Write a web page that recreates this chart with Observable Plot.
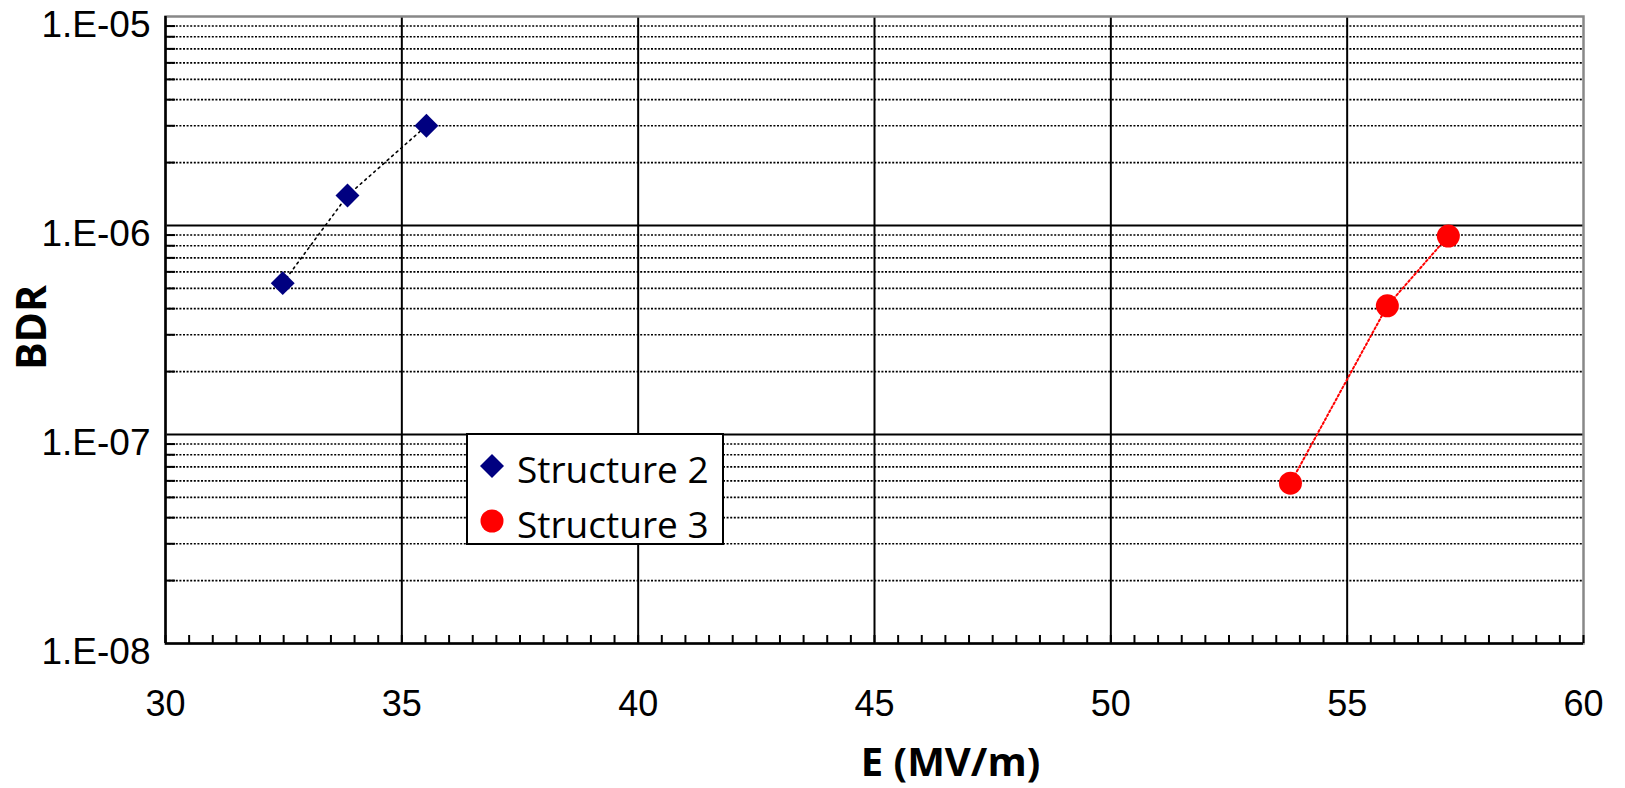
<!DOCTYPE html>
<html>
<head>
<meta charset="utf-8">
<script src="https://cdn.jsdelivr.net/npm/d3@7"></script>
<script src="https://cdn.jsdelivr.net/npm/@observablehq/plot@0.6"></script>
<style>
  html, body { margin: 0; padding: 0; background: #fff; }
  #wrap { position: relative; width: 1625px; height: 788px; }
  #legend { position: absolute; left: 0; top: 0; pointer-events: none; }
</style>
</head>
<body>
<div id="wrap"></div>
<script>
// ---- Data ----
const s2E   = [32.48, 33.85, 35.52];
const s2BDR = [5.3e-7, 1.39e-6, 3.0e-6];
const s3E   = [53.80, 55.85, 57.14];
const s3BDR = [5.85e-8, 4.13e-7, 8.9e-7];
const seriesNames = ["Structure 2", "Structure 3"];

const xMajorTicks = [30, 35, 40, 45, 50, 55, 60];
const yMajorTicks = [1e-8, 1e-7, 1e-6, 1e-5];
const xMinorTicks = d3.range(30, 60.001, 0.5);
const yMinorTicks = [-8, -7, -6].flatMap(k => d3.range(2, 10).map(m => m * Math.pow(10, k)));

const s2 = s2E.map((e, i) => ({E: e, BDR: s2BDR[i]}));
const s3 = s3E.map((e, i) => ({E: e, BDR: s3BDR[i]}));

const fmtY = d => {
  const k = Math.round(Math.log10(d));
  return "1.E" + (k < 0 ? "-" : "+") + String(Math.abs(k)).padStart(2, "0");
};

const chart = Plot.plot({
  width: 1625,
  height: 788,
  marginLeft: 165,
  marginRight: 42,
  marginTop: 16,
  marginBottom: 145,
  style: {background: "#fff", color: "#000"},
  x: {type: "linear", domain: [30, 60]},
  y: {type: "log", domain: [1e-8, 1e-5]},
  marks: [
    // minor horizontal dotted grid
    Plot.ruleY(yMinorTicks, {stroke: "#000", strokeWidth: 1.6, strokeDasharray: "2,1.6"}),
    // major grid
    Plot.ruleX(xMajorTicks.slice(1, -1), {stroke: "#000", strokeWidth: 2}),
    Plot.ruleY(yMajorTicks.slice(1, -1), {stroke: "#000", strokeWidth: 2}),
    // frame: top/right gray, left/bottom black
    Plot.frame({stroke: "#888", strokeWidth: 2.5}),
    Plot.ruleX([30], {stroke: "#000", strokeWidth: 2.5}),
    Plot.ruleY([1e-8], {stroke: "#000", strokeWidth: 2.5}),
    // inward minor ticks
    Plot.axisY({ticks: yMinorTicks, tickSize: -10, tickFormat: () => "", strokeWidth: 2, label: null}),
    Plot.axisX({ticks: xMinorTicks, tickSize: -8, tickFormat: () => "", strokeWidth: 2, label: null}),
    // tick labels
    Plot.axisY({ticks: yMajorTicks, tickSize: 0, tickPadding: 15, tickFormat: fmtY,
      fontSize: 37, fontFamily: "Liberation Sans", dy: 8.5, label: null}),
    Plot.axisX({ticks: xMajorTicks, tickSize: 0, tickPadding: 47, tickFormat: d => String(d),
      fontSize: 36, fontFamily: "Liberation Sans", label: null}),
    // axis titles
    Plot.text(["E (MV/m)"], {frameAnchor: "bottom", dx: 76, dy: 120, fontSize: 40,
      fontWeight: "bold", fontFamily: "Open Sans", textAnchor: "middle", lineAnchor: "middle"}),
    Plot.text(["BDR"], {frameAnchor: "left", rotate: -90, dx: -133, dy: -2.5, fontSize: 41,
      fontWeight: "bold", fontFamily: "Open Sans", textAnchor: "middle", lineAnchor: "middle"}),
    // series lines
    Plot.line(s2, {x: "E", y: "BDR", stroke: "#000", strokeWidth: 1.6, strokeDasharray: "2,4"}),
    Plot.line(s3, {x: "E", y: "BDR", stroke: "#ff0000", strokeWidth: 2, strokeDasharray: "2,2.5"}),
    // markers
    Plot.dot(s2, {x: "E", y: "BDR", symbol: "diamond2", r: 10.8, fill: "#000080", stroke: "none"}),
    Plot.dot(s3, {x: "E", y: "BDR", symbol: "circle", r: 11.5, fill: "#ff0000", stroke: "none"})
  ]
});

const wrap = document.getElementById("wrap");
wrap.appendChild(chart);

// Legend overlay (inside the plot area, like the reference)
const ns = "http://www.w3.org/2000/svg";
const lg = document.createElementNS(ns, "svg");
lg.setAttribute("id", "legend");
lg.setAttribute("width", 1625);
lg.setAttribute("height", 788);
lg.innerHTML = `
  <rect x="467" y="434" width="256" height="110" fill="#fff" stroke="#000" stroke-width="2"/>
  <path d="M492,454 L504,466 L492,478 L480,466 Z" fill="#000080"/>
  <circle cx="492" cy="521" r="11.5" fill="#ff0000"/>
  <text x="517" y="483" font-family="Open Sans" font-size="37" fill="#000">${seriesNames[0]}</text>
  <text x="517" y="538" font-family="Open Sans" font-size="37" fill="#000">${seriesNames[1]}</text>
`;
wrap.appendChild(lg);
</script>
</body>
</html>
